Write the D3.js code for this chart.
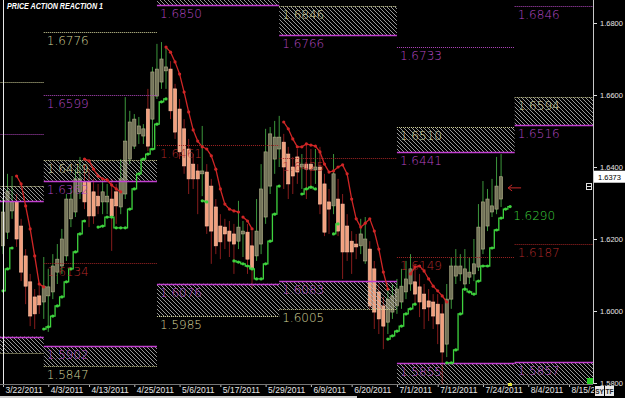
<!DOCTYPE html>
<html lang="en">
<head>
<meta charset="UTF-8">
<title>Price Action Reaction</title>
<script src="https://cdnjs.cloudflare.com/ajax/libs/d3/7.8.5/d3.min.js"></script>
<style>
  html, body { margin: 0; padding: 0; background: #000; }
  svg { display: block; }
</style>
</head>
<body>
<svg id="chart" width="625" height="398"></svg>
<script>
// daily bars from 3/22/2011, [open, high, low, close]
var candles = [
  [1.6181,1.6311,1.6158,1.6275],[1.6219,1.6381,1.6200,1.6333],[1.6278,1.6375,1.6256,1.6303],[1.6303,1.6325,1.6178,1.6200],
  [1.6236,1.6256,1.6083,1.6108],[1.6153,1.6172,1.6019,1.6069],[1.6081,1.6103,1.5958,1.5986],[1.6039,1.6061,1.5950,1.5992],
  [1.6042,1.6075,1.5992,1.6017],[1.6025,1.6150,1.5978,1.6069],[1.6042,1.6117,1.5942,1.6067],[1.6053,1.6158,1.6033,1.6125],
  [1.6108,1.6186,1.6075,1.6144],[1.6125,1.6228,1.6103,1.6200],[1.6153,1.6325,1.6139,1.6311],[1.6256,1.6339,1.6233,1.6311],
  [1.6275,1.6394,1.6261,1.6367],[1.6331,1.6428,1.6311,1.6367],[1.6358,1.6408,1.6283,1.6303],[1.6358,1.6394,1.6233,1.6264],
  [1.6331,1.6367,1.6242,1.6264],[1.6319,1.6353,1.6269,1.6292],[1.6303,1.6367,1.6269,1.6331],[1.6303,1.6353,1.6269,1.6319],
  [1.6311,1.6367,1.6167,1.6264],[1.6331,1.6353,1.6242,1.6292],[1.6289,1.6422,1.6269,1.6367],[1.6325,1.6594,1.6311,1.6472],
  [1.6422,1.6556,1.6408,1.6525],[1.6458,1.6547,1.6450,1.6533],[1.6492,1.6539,1.6464,1.6514],[1.6486,1.6519,1.6464,1.6506],
  [1.6561,1.6617,1.6444,1.6458],[1.6533,1.6678,1.6456,1.6664],[1.6597,1.6742,1.6589,1.6672],[1.6636,1.6747,1.6617,1.6700],
  [1.6667,1.6733,1.6617,1.6678],[1.6672,1.6694,1.6533,1.6556],[1.6617,1.6631,1.6478,1.6497],[1.6561,1.6589,1.6422,1.6442],
  [1.6506,1.6533,1.6381,1.6403],[1.6450,1.6478,1.6325,1.6367],[1.6408,1.6436,1.6339,1.6367],[1.6389,1.6408,1.6269,1.6367],
  [1.6381,1.6514,1.6319,1.6389],[1.6386,1.6408,1.6214,1.6236],[1.6347,1.6367,1.6131,1.6222],[1.6289,1.6311,1.6158,1.6181],
  [1.6236,1.6269,1.6144,1.6192],[1.6233,1.6256,1.6172,1.6214],[1.6222,1.6250,1.6150,1.6194],[1.6214,1.6242,1.6103,1.6186],
  [1.6194,1.6306,1.6172,1.6233],[1.6214,1.6250,1.6150,1.6222],[1.6219,1.6242,1.6103,1.6144],[1.6181,1.6222,1.6061,1.6117],
  [1.6153,1.6311,1.6139,1.6222],[1.6186,1.6408,1.6158,1.6339],[1.6261,1.6506,1.6242,1.6442],[1.6347,1.6511,1.6325,1.6492],
  [1.6422,1.6528,1.6381,1.6483],[1.6450,1.6542,1.6400,1.6483],[1.6469,1.6492,1.6339,1.6400],[1.6436,1.6456,1.6311,1.6353],
  [1.6400,1.6428,1.6325,1.6375],[1.6428,1.6450,1.6353,1.6386],[1.6400,1.6436,1.6339,1.6408],[1.6408,1.6464,1.6311,1.6394],
  [1.6408,1.6450,1.6339,1.6394],[1.6392,1.6450,1.6353,1.6400],[1.6400,1.6456,1.6269,1.6297],[1.6353,1.6381,1.6208,1.6219],
  [1.6303,1.6339,1.6214,1.6283],[1.6292,1.6436,1.6269,1.6381],[1.6311,1.6367,1.6208,1.6222],[1.6297,1.6325,1.6089,1.6164],
  [1.6236,1.6269,1.6139,1.6164],[1.6194,1.6222,1.6103,1.6164],[1.6186,1.6214,1.6144,1.6178],[1.6181,1.6256,1.6158,1.6214],
  [1.6139,1.6261,1.6131,1.6200],[1.6172,1.6194,1.6006,1.6014],[1.6117,1.6139,1.5950,1.5997],[1.6053,1.6075,1.5936,1.5978],
  [1.6014,1.6039,1.5894,1.5958],[1.5969,1.6061,1.5936,1.6033],[1.5997,1.6075,1.5978,1.6042],[1.6014,1.6089,1.5992,1.6061],
  [1.6025,1.6117,1.6006,1.6069],[1.6053,1.6139,1.6033,1.6089],[1.6075,1.6158,1.6056,1.6117],[1.6081,1.6131,1.6019,1.6047],
  [1.6067,1.6103,1.5983,1.6025],[1.6047,1.6075,1.5950,1.6006],[1.6028,1.6061,1.5972,1.6011],[1.6025,1.6047,1.5950,1.5986],
  [1.6019,1.6047,1.5908,1.5964],[1.5992,1.6019,1.5792,1.5886],[1.5908,1.6075,1.5872,1.6033],[1.6033,1.6150,1.6006,1.6125],
  [1.6097,1.6172,1.6075,1.6125],[1.6103,1.6158,1.6083,1.6125],[1.6075,1.6172,1.6056,1.6117],[1.6094,1.6150,1.6075,1.6108],
  [1.6103,1.6200,1.6083,1.6131],[1.6122,1.6297,1.6111,1.6233],[1.6172,1.6361,1.6158,1.6303],[1.6236,1.6339,1.6222,1.6311],
  [1.6275,1.6367,1.6261,1.6292],[1.6283,1.6428,1.6269,1.6347],[1.6311,1.6436,1.6289,1.6373]
];

var tickLabels = ["3/22/2011","4/3/2011","4/13/2011","4/25/2011","5/6/2011","5/17/2011","5/29/2011",
                  "6/9/2011","6/20/2011","7/1/2011","7/12/2011","7/24/2011","8/4/2011","8/15/2011"];
var tickBars = [0, 10, 19, 29, 39, 48, 58, 68, 77, 87, 96, 106, 116, 125];
var priceTicks = [1.58, 1.60, 1.62, 1.64, 1.66, 1.68];

// monthly periods (bar index where each starts / ends)
var periodStart = [-16, 9, 34, 61, 87, 113];
var periodEnd   = [9, 34, 61, 87, 113, 140];
// upper (supply) zones
var supplyTop = [1.6347, 1.6419, 1.6930, 1.6846, 1.6510, 1.6594];
var supplyBot = [1.6305, 1.6362, 1.6850, 1.6766, 1.6441, 1.6516];
// lower (demand) zones
var demandTop = [1.5929, 1.5902, 1.6076, 1.6083, 1.5855, 1.5857];
var demandBot = [1.5884, 1.5847, 1.5985, 1.6005, 1.5770, 1.5770];
// single levels
var highLine  = [1.6636, 1.6776, null, null, null, null];
var midLine   = [1.6492, 1.6599, null, null, 1.6733, 1.6846];
var pivotLine = [null, 1.6134, 1.6461, 1.6425, 1.6149, 1.6187];

// trailing stops: [first bar, values]
var redStops = [
  [3,  [1.6375,1.6353,1.6292,1.6228,1.6153,1.6075,1.6067]],
  [18, [1.6422,1.6417,1.6394,1.6375,1.6367,1.6364,1.6350,1.6339,1.6331]],
  [36, [1.6733,1.6719,1.6692,1.6658,1.6608,1.6553,1.6503,1.6472,1.6456,1.6450,1.6431,1.6394,1.6339,1.6297,1.6283,1.6278,1.6275]],
  [53, [1.6261,1.6250,1.6228]],
  [62, [1.6525,1.6506,1.6478,1.6456,1.6456,1.6464,1.6461,1.6458,1.6442,1.6408,1.6386,1.6389,1.6400,1.6406,1.6381,1.6311,1.6256,1.6233,1.6244,1.6256,1.6222,1.6172,1.6108,1.6061]],
  [90, [1.6103,1.6122,1.6125,1.6111,1.6089,1.6069,1.6056,1.6042,1.6025]]
];
var greenStops = [
  [0,  [1.6056,1.6117,1.6175]],
  [9,  [1.5950,1.5956,1.5986,1.6014,1.6039,1.6081,1.6117,1.6164,1.6214,1.6250]],
  [21, [1.6233,1.6236,1.6261,1.6261,1.6231,1.6231,1.6231,1.6283,1.6339,1.6381,1.6422,1.6436,1.6450,1.6519,1.6581,1.6589]],
  [44, [1.6306,1.6303]],
  [51, [1.6139,1.6136,1.6131,1.6125,1.6117,1.6089,1.6089,1.6131,1.6194,1.6269,1.6347]],
  [66, [1.6325,1.6339,1.6344,1.6339]],
  [73, [1.6214,1.6242]],
  [85, [1.5922,1.5931,1.5944,1.5958,1.5992,1.6006,1.6019]],
  [98, [1.5856,1.5856,1.5892,1.5992,1.6061,1.6053,1.6047,1.6083,1.6125,1.6125,1.6175,1.6225,1.6258,1.6283,1.6290]]
];

var W = 625, H = 398, plotRight = 593, plotBottom = 384;
var x = d3.scaleLinear().domain([0, 125]).range([3, 569]);
var y = d3.scaleLinear().domain([1.58, 1.68]).range([383, 23]);
var fmt = d3.format(".4f");

var svg = d3.select("#chart");
svg.append("rect").attr("width", W).attr("height", H).attr("fill", "#000");

var defs = svg.append("defs");
defs.append("clipPath").attr("id", "plot")
  .append("rect").attr("width", plotRight).attr("height", plotBottom);
defs.append("clipPath").attr("id", "xlab")
  .append("rect").attr("width", 594).attr("height", H);
var pat = defs.append("pattern").attr("id", "hatch")
  .attr("patternUnits", "userSpaceOnUse").attr("width", 4).attr("height", 4);
pat.append("path").attr("d", "M-1,-1L5,5M-1,3L1,5M3,-1L5,1")
  .attr("stroke", "#bdbdbd").attr("stroke-width", 0.8);

var plot = svg.append("g").attr("clip-path", "url(#plot)");

// candles
var bw = 3.2;
var cg = plot.append("g").selectAll("g").data(candles).enter().append("g");
cg.append("line")
  .attr("x1", function(d, i) { return x(i); })
  .attr("x2", function(d, i) { return x(i); })
  .attr("y1", function(d) { return y(d[1]); })
  .attr("y2", function(d) { return y(d[2]); })
  .attr("stroke", function(d) { return d[3] >= d[0] ? "#3c963c" : "#861c1c"; })
  .attr("stroke-width", 1);
cg.append("rect")
  .attr("x", function(d, i) { return x(i) - bw / 2; })
  .attr("width", bw)
  .attr("y", function(d) { return y(Math.max(d[0], d[3])); })
  .attr("height", function(d) { return Math.max(1, Math.abs(y(d[0]) - y(d[3]))); })
  .attr("fill", function(d) { return d[3] >= d[0] ? "#74745a" : "#f2a07e"; })
  .attr("stroke", function(d) { return d[3] >= d[0] ? "#b0b088" : "#ffc0a4"; })
  .attr("stroke-width", 0.6);

// zones
var zoneData = [];
periodStart.forEach(function(s, p) {
  zoneData.push({p: p, top: supplyTop[p], bot: supplyBot[p]});
  zoneData.push({p: p, top: demandTop[p], bot: demandBot[p]});
});
plot.append("g").selectAll("rect").data(zoneData).enter().append("rect")
  .attr("x", function(d) { return x(periodStart[d.p]); })
  .attr("width", function(d) { return x(periodEnd[d.p]) - x(periodStart[d.p]); })
  .attr("y", function(d) { return y(d.top); })
  .attr("height", function(d) { return y(d.bot) - y(d.top); })
  .attr("fill", "url(#hatch)");

// level lines
var styles = {
  yel:    {stroke: "#d4d49c", dash: "1,1", w: 1,   text: "#d4d49c"},
  mag:    {stroke: "#c23fd0", dash: null,  w: 1.6, text: "#b548c2"},
  magDot: {stroke: "#b548c2", dash: "1,1", w: 1,   text: "#b548c2"},
  red:    {stroke: "#a02424", dash: "1,1", w: 1,   text: "#b02a2a"}
};
var levels = [];
periodStart.forEach(function(s, p) {
  levels.push({p: p, v: supplyTop[p], k: "yel"});
  levels.push({p: p, v: supplyBot[p], k: "mag"});
  levels.push({p: p, v: demandTop[p], k: "mag"});
  levels.push({p: p, v: demandBot[p], k: "yel"});
  if (highLine[p] != null) levels.push({p: p, v: highLine[p], k: "yel"});
  if (midLine[p] != null) levels.push({p: p, v: midLine[p], k: "magDot"});
  if (pivotLine[p] != null) levels.push({p: p, v: pivotLine[p], k: "red"});
});
plot.append("g").selectAll("line").data(levels).enter().append("line")
  .attr("x1", function(d) { return x(periodStart[d.p]); })
  .attr("x2", function(d) { return x(periodEnd[d.p]); })
  .attr("y1", function(d) { return Math.round(y(d.v)) + 0.5; })
  .attr("y2", function(d) { return Math.round(y(d.v)) + 0.5; })
  .attr("stroke", function(d) { return styles[d.k].stroke; })
  .attr("stroke-width", function(d) { return styles[d.k].w; })
  .attr("stroke-dasharray", function(d) { return styles[d.k].dash; });

// trailing stops
function drawStops(list, color, curve) {
  var line = d3.line().curve(curve)
    .x(function(d) { return x(d[0]); })
    .y(function(d) { return y(d[1]); });
  list.forEach(function(seg) {
    var pts = seg[1].map(function(v, j) { return [seg[0] + j, v]; });
    plot.append("path").datum(pts).attr("d", line)
      .attr("fill", "none").attr("stroke", color).attr("stroke-width", 1.3);
    plot.append("g").selectAll("circle").data(pts).enter().append("circle")
      .attr("cx", function(d) { return x(d[0]); })
      .attr("cy", function(d) { return y(d[1]); })
      .attr("r", 1.6).attr("fill", color);
  });
}
drawStops(redStops, "#d02626", d3.curveLinear);
drawStops(greenStops, "#3ed23e", d3.curveStep);

// level labels (only those that land inside the plot)
var shown = levels.filter(function(d) {
  var ty = y(d.v) + 13;
  return x(periodStart[d.p]) >= 0 && ty > 8 && ty < plotBottom;
});
plot.append("g").selectAll("text").data(shown).enter().append("text")
  .attr("x", function(d) { return x(periodStart[d.p]) + 3; })
  .attr("y", function(d) { return y(d.v) + 13; })
  .attr("fill", function(d) { return styles[d.k].text; })
  .attr("font-family", "DejaVu Sans")
  .attr("font-weight", 200)
  .attr("font-size", 12)
  .text(function(d) { return fmt(d.v); });

// last green stop label
var lastG = greenStops[greenStops.length - 1];
var lastGv = lastG[1][lastG[1].length - 1];
plot.append("text")
  .attr("x", x(lastG[0] + lastG[1].length - 1) + 3)
  .attr("y", y(lastGv) + 13)
  .attr("fill", "#3ed23e").attr("font-family", "DejaVu Sans").attr("font-weight", 200)
  .attr("font-size", 12).text(fmt(lastGv));

// arrow at last bar
var lastBar = candles.length - 1;
var ay = y(1.6342);
plot.append("path")
  .attr("d", "M" + (x(lastBar) + 7) + "," + ay + "h13M" + (x(lastBar) + 11) + "," + (ay - 3) +
       "L" + (x(lastBar) + 7) + "," + ay + "L" + (x(lastBar) + 11) + "," + (ay + 3))
  .attr("stroke", "#c82a2a").attr("fill", "none").attr("stroke-width", 1);

// left separator
svg.append("line").attr("x1", 3.5).attr("x2", 3.5).attr("y1", 0).attr("y2", plotBottom)
  .attr("stroke", "#e8e8e8").attr("stroke-width", 1);

// bottom axis
var xa = svg.append("g").attr("transform", "translate(0," + plotBottom + ")")
  .attr("clip-path", "url(#xlab)")
  .call(d3.axisBottom(x).tickValues(tickBars)
    .tickFormat(function(d, i) { return tickLabels[i]; }).tickSize(3));
xa.select(".domain").remove();
xa.selectAll(".tick line").attr("stroke", "#bbb");
xa.selectAll(".tick text").attr("fill", "#e6e6e6").attr("text-anchor", "start")
  .attr("x", 2).attr("y", 3)
  .attr("font-family", "Liberation Sans").attr("font-size", 8.5);
svg.append("line").attr("x1", 0).attr("x2", plotRight).attr("y1", plotBottom + 0.5).attr("y2", plotBottom + 0.5)
  .attr("stroke", "#777");
svg.append("rect").attr("x", 0).attr("y", 396).attr("width", 357).attr("height", 2).attr("fill", "#cfcfcf");

// right axis
var ya = svg.append("g").attr("transform", "translate(" + plotRight + ",0)")
  .call(d3.axisRight(y).tickValues(priceTicks).tickFormat(fmt).tickSize(4));
ya.select(".domain").remove();
ya.selectAll(".tick line").attr("stroke", "#ddd");
ya.selectAll(".tick text").attr("fill", "#e6e6e6").attr("x", 7)
  .attr("font-family", "Liberation Sans").attr("font-size", 7.5);
svg.append("line").attr("x1", plotRight + 0.5).attr("x2", plotRight + 0.5).attr("y1", 0).attr("y2", plotBottom)
  .attr("stroke", "#c8c8c8");

// last price box
var lastClose = candles[lastBar][3];
svg.append("rect").attr("x", 594).attr("y", y(lastClose) - 6).attr("width", 31).attr("height", 12)
  .attr("fill", "#fff");
svg.append("text").attr("x", 598).attr("y", y(lastClose) + 3)
  .attr("fill", "#000").attr("font-family", "Liberation Sans").attr("font-size", 7.5)
  .text(fmt(lastClose));
svg.append("rect").attr("x", 586.5).attr("y", 183.5).attr("width", 5).attr("height", 6)
  .attr("fill", "none").attr("stroke", "#ddd");
svg.append("line").attr("x1", 587).attr("x2", 591).attr("y1", 186.5).attr("y2", 186.5).attr("stroke", "#ddd");

// small corner widgets
svg.append("rect").attr("x", 587).attr("y", 378).attr("width", 6).attr("height", 6).attr("fill", "#22cc22");
svg.append("rect").attr("x", 508).attr("y", 383).attr("width", 4).attr("height", 3).attr("fill", "#e0e040");
["SY", "TF"].forEach(function(t, i) {
  svg.append("rect").attr("x", 595 + i * 10).attr("y", 386).attr("width", 9).attr("height", 10)
    .attr("fill", "#e8e8e8");
  svg.append("text").attr("x", 599.5 + i * 10).attr("y", 394).attr("text-anchor", "middle")
    .attr("fill", "#222").attr("font-family", "Liberation Sans").attr("font-weight", "bold")
    .attr("font-size", 6.5).text(t);
});

// title
svg.append("text").attr("x", 7).attr("y", 9)
  .attr("fill", "#fff").attr("font-family", "Liberation Sans")
  .attr("font-weight", "bold").attr("font-style", "italic").attr("font-size", 9)
  .attr("textLength", 96).attr("lengthAdjust", "spacingAndGlyphs")
  .text("PRICE ACTION REACTION 1");
</script>
</body>
</html>
